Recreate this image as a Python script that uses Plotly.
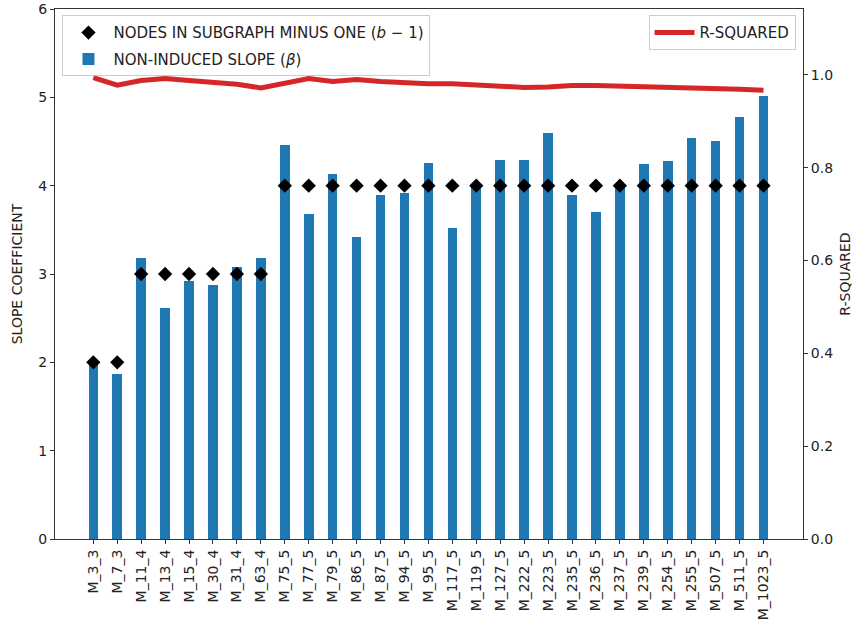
import plotly.graph_objects as go

categories = ["M_3_3", "M_7_3", "M_11_4", "M_13_4", "M_15_4", "M_30_4", "M_31_4", "M_63_4",
              "M_75_5", "M_77_5", "M_79_5", "M_86_5", "M_87_5", "M_94_5", "M_95_5", "M_117_5",
              "M_119_5", "M_127_5", "M_222_5", "M_223_5", "M_235_5", "M_236_5", "M_237_5",
              "M_239_5", "M_254_5", "M_255_5", "M_507_5", "M_511_5", "M_1023_5"]
slope = [1.97, 1.87, 3.18, 2.61, 2.92, 2.87, 3.08, 3.18,
         4.46, 3.68, 4.13, 3.42, 3.89, 3.92, 4.26, 3.52,
         3.98, 4.29, 4.29, 4.60, 3.89, 3.70, 4.00,
         4.24, 4.28, 4.54, 4.51, 4.78, 5.02]
nodes_minus_one = [2, 2, 3, 3, 3, 3, 3, 3,
                   4, 4, 4, 4, 4, 4, 4, 4,
                   4, 4, 4, 4, 4, 4, 4,
                   4, 4, 4, 4, 4, 4]
r_squared = [0.994, 0.978, 0.988, 0.992, 0.988, 0.984, 0.980, 0.972,
             0.983, 0.992, 0.986, 0.990, 0.986, 0.983, 0.981, 0.981,
             0.978, 0.975, 0.973, 0.974, 0.977, 0.977, 0.976,
             0.974, 0.973, 0.973, 0.971, 0.969, 0.967]
left_ticks = [0, 1, 2, 3, 4, 5, 6]
right_ticks = [0.0, 0.2, 0.4, 0.6, 0.8, 1.0]

x = list(range(len(categories)))
FONT = "DejaVu Sans"

fig = go.Figure()
fig.add_trace(go.Bar(
    x=x, y=slope, width=0.4, marker=dict(color="#1f77b4", line=dict(width=0)),
    name="NON-INDUCED SLOPE (<i>β</i>)", legend="legend", legendrank=2, legendgroup="b",
))
fig.add_trace(go.Scatter(
    x=x, y=nodes_minus_one, mode="markers",
    marker=dict(symbol="diamond", size=11, color="black"),
    name="NODES IN SUBGRAPH MINUS ONE (<i>b</i> − 1)", legend="legend", legendrank=1, legendgroup="a",
))
fig.add_trace(go.Scatter(
    x=x, y=r_squared, mode="lines", yaxis="y2",
    line=dict(color="#d62728", width=5),
    name="R-SQUARED", legend="legend2",
))

axis_common = dict(
    showline=True, linecolor="#333", linewidth=1, automargin=False,
    ticks="outside", ticklen=4, tickcolor="#333", showgrid=False, zeroline=False,
    tickfont=dict(family=FONT, size=14, color="#222"), ticklabeloverflow="allow",
)

fig.update_layout(
    width=858, height=634,
    margin=dict(l=55, r=55, t=9, b=95),
    paper_bgcolor="white", plot_bgcolor="white",
    font=dict(family=FONT, size=14, color="#222"),
    bargap=0,
    xaxis=dict(
        tickmode="array", tickvals=x, ticktext=categories, tickangle=-90,
        range=[-1.6, len(categories) + 0.65], mirror=True, **axis_common,
    ),
    yaxis=dict(
        range=[0, 6], tickvals=left_ticks,
        title=dict(text="SLOPE COEFFICIENT", font=dict(family=FONT, size=14, color="#222"), standoff=12),
        **axis_common,
    ),
    yaxis2=dict(
        overlaying="y", side="right", range=[0, 1.142], tickvals=right_ticks,
        tickformat=".1f",
        title=dict(text="R-SQUARED", font=dict(family=FONT, size=14, color="#222"), standoff=8),
        **axis_common,
    ),
    legend=dict(
        x=0.01, y=0.988, xanchor="left", yanchor="top",
        bgcolor="rgba(255,255,255,0.8)", bordercolor="#cccccc", borderwidth=1,
        font=dict(family=FONT, size=15, color="#222"),
        traceorder="grouped", tracegroupgap=4, itemwidth=40,
    ),
    legend2=dict(
        x=0.99, y=0.988, xanchor="right", yanchor="top",
        bgcolor="rgba(255,255,255,0.8)", bordercolor="#cccccc", borderwidth=1,
        font=dict(family=FONT, size=15, color="#222"), itemwidth=40,
    ),
)

fig.write_html("out.html", config={"displayModeBar": False},
               post_script="document.body.style.margin='0';")
